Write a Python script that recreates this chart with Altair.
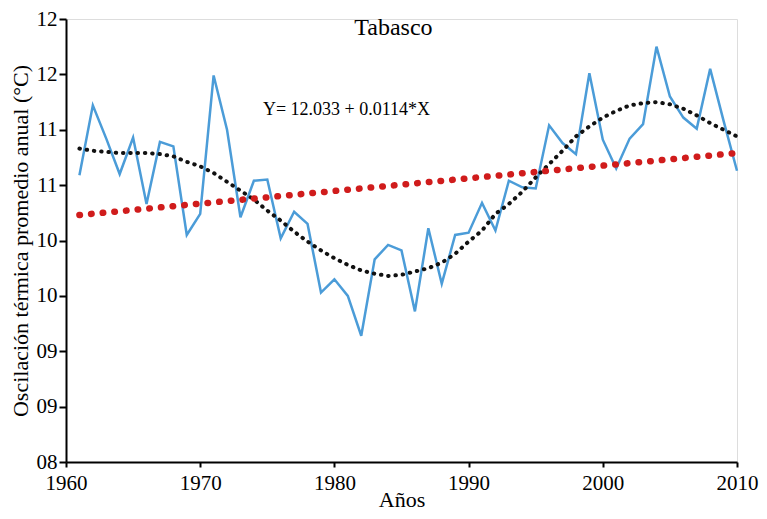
import json
import altair as alt
import pandas as pd

years = list(range(1961, 2011))
observed = [10.59, 11.22, 10.92, 10.60, 10.93, 10.33, 10.89, 10.85, 10.05, 10.24,
            11.49, 11.00, 10.21, 10.54, 10.55, 10.02, 10.26, 10.15, 9.53, 9.65,
            9.50, 9.14, 9.83, 9.96, 9.91, 9.36, 10.11, 9.61, 10.05, 10.07,
            10.34, 10.09, 10.54, 10.48, 10.47, 11.04, 10.88, 10.78, 11.51, 10.91,
            10.65, 10.92, 11.05, 11.75, 11.30, 11.11, 11.01, 11.55, 11.08, 10.63]
poly_fit = [10.83, 10.81, 10.80, 10.79, 10.79, 10.79, 10.78, 10.76, 10.71, 10.67,
            10.61, 10.53, 10.45, 10.37, 10.27, 10.18, 10.08, 9.99, 9.91, 9.84,
            9.78, 9.73, 9.70, 9.68, 9.69, 9.72, 9.75, 9.80, 9.88, 9.99,
            10.09, 10.24, 10.33, 10.44, 10.57, 10.69, 10.81, 10.94, 11.03, 11.11,
            11.17, 11.22, 11.24, 11.25, 11.23, 11.19, 11.13, 11.06, 11.00, 10.94]
trend_years = [1961, 2010]
trend_values = [10.23, 10.79]

x_ticks = [1960, 1970, 1980, 1990, 2000, 2010]
y_ticks = [8.0, 8.5, 9.0, 9.5, 10.0, 10.5, 11.0, 11.5, 12.0]
y_tick_labels = ["08", "09", "09", "10", "10", "11", "11", "12", "12"]

title_text = "Tabasco"
equation_text = "Y= 12.033 + 0.0114*X"
annot_years = [1984.4, 1980.9]
annot_values = [11.92, 11.18]

df = pd.DataFrame({"year": years, "obs": observed, "poly": poly_fit})
trend = pd.DataFrame({"year": trend_years, "trend": trend_values})
annot = pd.DataFrame({"year": annot_years, "val": annot_values,
                      "label": [title_text, equation_text],
                      "size": [24, 18]})

FONT = "Liberation Serif"
label_expr = json.dumps(y_tick_labels) + "[round((datum.value-8)*2)]"

xs = alt.Scale(domain=[1960, 2010], nice=False, zero=False)
ys = alt.Scale(domain=[8, 12], nice=False, zero=False)

common = dict(grid=False, labelFont=FONT, titleFont=FONT, labelFontSize=21,
              titleFontSize=22, titleFontWeight="normal", labelColor="black",
              titleColor="black", domainColor="black", domainWidth=2,
              tickColor="black", tickWidth=2)

x_enc = alt.X("year:Q", scale=xs,
              axis=alt.Axis(values=x_ticks, format="d", title="Años",
                            tickSize=5, labelPadding=5, titlePadding=-4,
                            labelFlush=False, **common))
y_axis = alt.Axis(values=y_ticks, labelExpr=label_expr,
                  title="Oscilación térmica promedio anual (°C)",
                  tickSize=7, labelPadding=2, titlePadding=4, **common)

base = alt.Chart(df)

obs_line = base.mark_line(color="#4b9cd8", strokeWidth=2.5).encode(
    x=x_enc, y=alt.Y("obs:Q", scale=ys, axis=y_axis))

poly_line = base.mark_line(color="#111111", strokeWidth=4, strokeCap="round",
                           strokeDash=[0.5, 6.8]).encode(
    x=alt.X("year:Q", scale=xs), y=alt.Y("poly:Q", scale=ys))

trend_line = alt.Chart(trend).mark_line(color="#d01c1c", strokeWidth=6.5, strokeCap="round",
                                        strokeDash=[0.5, 11.2]).encode(
    x=alt.X("year:Q", scale=xs), y=alt.Y("trend:Q", scale=ys))

texts = alt.Chart(annot).mark_text(font=FONT, color="black", align="center",
                                   baseline="middle").encode(
    x=alt.X("year:Q", scale=xs), y=alt.Y("val:Q", scale=ys),
    text="label:N", size=alt.Size("size:Q", scale=None, legend=None))

chart = alt.layer(obs_line, poly_line, trend_line, texts).properties(
    width=671, height=443,
    autosize=alt.AutoSizeParams(type="none"),
    padding={"left": 58, "top": 11, "right": 22, "bottom": 49},
).configure_view(stroke=None).configure(font=FONT)

chart.save("out.html", embed_options={"renderer": "svg", "actions": False})
